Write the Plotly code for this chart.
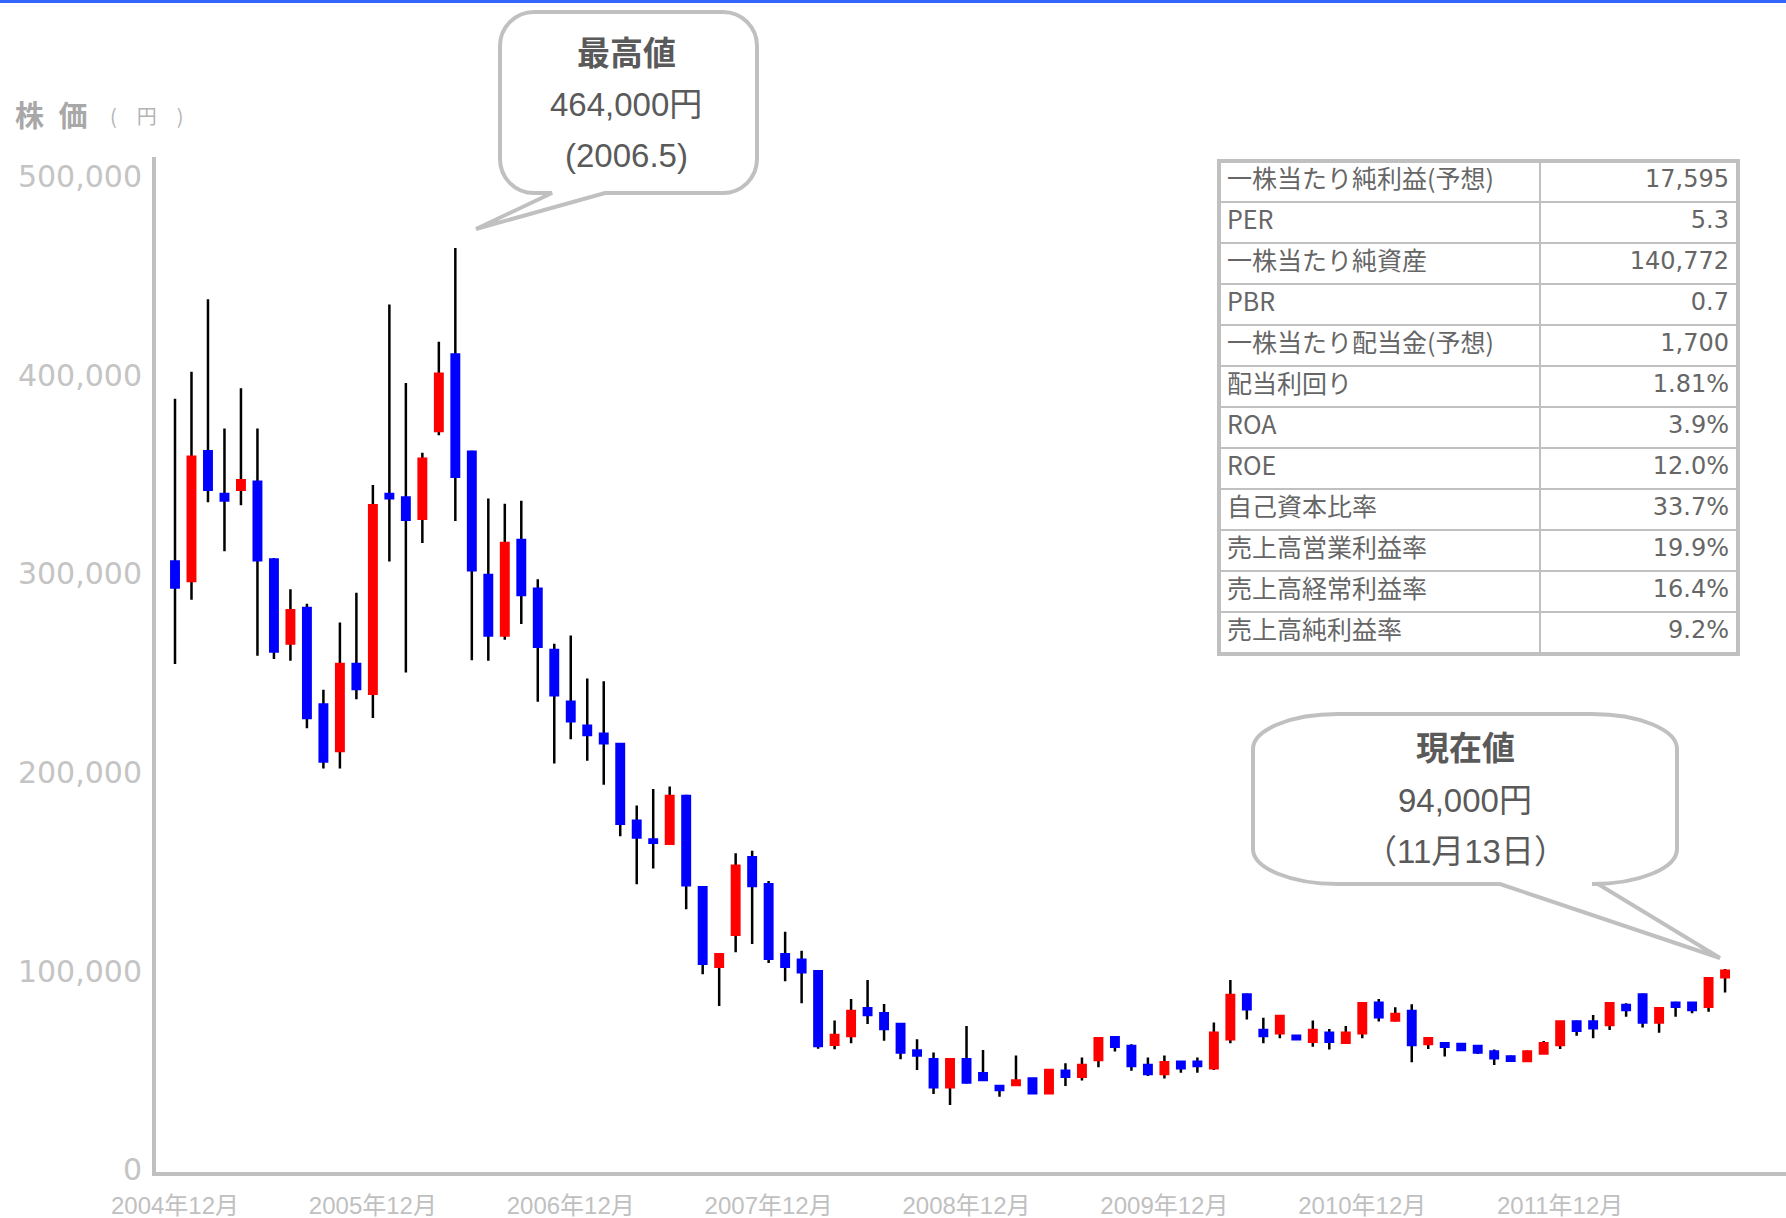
import plotly.graph_objects as go

# ---------------- data ----------------
start_year, start_month, n_months = 2004, 12, 95
months = []
yy, mm = start_year, start_month
for _ in range(n_months):
    months.append(f"{yy}年{mm}月")
    mm += 1
    if mm > 12:
        mm, yy = 1, yy + 1

open_ = [306200, 296400, 361700, 340200, 342300, 346400, 307200, 265000, 282800, 234200,
         210800, 254600, 239600, 340200, 338500, 327700, 371900, 410500, 361500, 299400,
         269000, 317000, 292500, 261700, 235600, 223500, 219500, 214300, 175700, 166300,
         164200, 188200, 142300, 102200, 118300, 157300, 143700, 108500, 105800, 99900,
         63000, 67400, 81300, 78800, 73400, 60000, 55600, 41500, 55600, 48600,
         42200, 42700, 46000, 38500, 49900, 46900, 55300, 66700, 62300, 52800,
         48200, 54400, 54400, 51100, 65700, 88300, 70400, 68700, 67500, 64500,
         69000, 64000, 68700, 84100, 75100, 79900, 63300, 63700, 63300, 62300,
         59500, 57000, 54800, 58600, 62800, 74600, 74600, 72900, 83000, 88300,
         74100, 84100, 84100, 82100, 96900]
high = [388200, 401700, 438300, 373200, 393400, 373200, 308000, 292200, 284900, 241700,
        275500, 290500, 344800, 435600, 396100, 361000, 416800, 464000, 362000, 338000,
        335300, 336800, 297300, 264800, 269000, 247300, 246000, 214700, 183400, 191700,
        193000, 188800, 142300, 108500, 159400, 160600, 145400, 119900, 110300, 99900,
        75100, 86000, 95500, 83500, 73400, 65700, 59000, 55600, 72400, 60300,
        42200, 57500, 46000, 50200, 53600, 56500, 66200, 67400, 63200, 56500,
        57500, 54400, 56500, 74100, 95500, 88800, 76600, 77900, 67500, 75100,
        70900, 72400, 83800, 86000, 81800, 83300, 66200, 63700, 63300, 62800,
        60600, 57500, 60000, 64800, 74900, 75100, 77900, 84300, 83800, 88800,
        81800, 84600, 84100, 96900, 101100]
low = [254600, 287000, 336000, 311400, 334500, 258800, 257100, 256300, 222300, 202000,
       202000, 236900, 227500, 306200, 250400, 315600, 369800, 326600, 256500, 256300,
       266900, 274800, 235600, 204500, 216800, 205900, 193800, 167900, 143700, 151700,
       163800, 131200, 98500, 82400, 109500, 113700, 104100, 94900, 83800, 61000,
       60700, 63700, 73400, 65000, 55600, 50200, 38200, 32600, 43500, 44900,
       36800, 42700, 38200, 38200, 42200, 44900, 51600, 59500, 49900, 47200,
       46000, 48900, 48900, 50200, 63700, 75700, 63700, 66200, 65300, 62000,
       60600, 63700, 66200, 74600, 74600, 54100, 60800, 57000, 60000, 58300,
       52800, 54300, 54300, 58300, 60800, 67500, 66200, 70400, 77100, 71700,
       69000, 77100, 78800, 79600, 89200]
close = [293200, 359000, 342300, 337000, 347100, 306800, 260900, 281700, 227500, 205600,
         254600, 242100, 334500, 338100, 327200, 357900, 400700, 348900, 301800, 269000,
         315500, 289400, 263300, 238900, 225800, 218900, 214700, 174200, 167300, 164600,
         188200, 143300, 103700, 108500, 153100, 142900, 106200, 102200, 99500, 62300,
         67800, 80000, 77900, 70900, 59000, 57600, 41500, 55600, 43900, 45200,
         40200, 44900, 38500, 50200, 46900, 52800, 66200, 62000, 52300, 48200,
         54100, 51100, 52300, 69000, 88000, 80800, 67400, 77400, 65700, 70400,
         64500, 69000, 83800, 76800, 78400, 62800, 66200, 62000, 60300, 59000,
         56100, 54900, 59500, 63700, 74600, 70000, 71200, 83800, 80400, 74100,
         81300, 82100, 80400, 96400, 100200]

tick_months = ["2004年12月", "2005年12月", "2006年12月", "2007年12月",
               "2008年12月", "2009年12月", "2010年12月", "2011年12月"]
y_ticks = [0, 100000, 200000, 300000, 400000, 500000]

table_labels = ["一株当たり純利益(予想)", "PER", "一株当たり純資産", "PBR",
                "一株当たり配当金(予想)", "配当利回り", "ROA", "ROE", "自己資本比率",
                "売上高営業利益率", "売上高経常利益率", "売上高純利益率"]
table_values = ["17,595", "5.3", "140,772", "0.7", "1,700", "1.81%", "3.9%", "12.0%",
                "33.7%", "19.9%", "16.4%", "9.2%"]

peak_lines = ["<b>最高値</b>", "464,000円", "(2006.5)"]
now_lines = ["<b>現在値</b>", "94,000円", "（11月13日）"]

# ---------------- layout geometry (pixels) ----------------
W, H = 1786, 1218
PLOT_L, PLOT_T, PLOT_R, PLOT_B = 156, 157, 1786, 1172
PW, PH = PLOT_R - PLOT_L, PLOT_B - PLOT_T
FIRST_PX, SPACING = 175.0, 16.49
ZERO_PX, TOP_TICK_PX = 1169.8, 176.6
upp = 500000 / (ZERO_PX - TOP_TICK_PX)
x_lo = -(FIRST_PX - PLOT_L) / SPACING
x_hi = x_lo + PW / SPACING
y_lo = -(PLOT_B - ZERO_PX) * upp
y_hi = (ZERO_PX - PLOT_T) * upp


def fx(px):
    return (px - PLOT_L) / PW


def fy(py):
    return (PLOT_B - py) / PH


GRAY_AX = "#c0c0c0"
TXT = "#5a5a5a"
CJK = "Noto Sans CJK JP"

fig = go.Figure()

# wicks (black): body collapsed to the midpoint so colored bodies cover it
mid = [(o + c) / 2 for o, c in zip(open_, close)]
fig.add_trace(go.Candlestick(
    x=months, open=mid, high=high, low=low, close=mid,
    increasing=dict(line=dict(color="black", width=2.5), fillcolor="black"),
    decreasing=dict(line=dict(color="black", width=2.5), fillcolor="black"),
    whiskerwidth=0, hoverinfo="skip", showlegend=False))

# bodies
body_hi = [max(o, c) for o, c in zip(open_, close)]
body_lo = [min(o, c) for o, c in zip(open_, close)]
fig.add_trace(go.Candlestick(
    x=months, open=open_, high=body_hi, low=body_lo, close=close,
    increasing=dict(line=dict(color="#ff0000", width=2.5), fillcolor="#ff0000"),
    decreasing=dict(line=dict(color="#0000ff", width=2.5), fillcolor="#0000ff"),
    whiskerwidth=0, hoverinfo="skip", showlegend=False))

# indicator table
tbl_font = dict(family=[CJK, "DejaVu Sans"], size=[25, 24], color="#666666")
fig.add_trace(go.Table(
    domain=dict(x=[fx(1219), fx(1738)], y=[fy(656), fy(161)]),
    columnwidth=[322, 197],
    header=dict(values=[table_labels[0], table_values[0]],
                align=["left", "right"], height=41,
                fill=dict(color="white"), line=dict(color=GRAY_AX, width=2),
                font=tbl_font),
    cells=dict(values=[table_labels[1:], table_values[1:]],
               align=["left", "right"], height=41,
               fill=dict(color="white"), line=dict(color=GRAY_AX, width=2),
               font=tbl_font),
))

shapes = []
# outer border of the table
shapes.append(dict(type="rect", xref="paper", yref="paper",
                   x0=fx(1219), x1=fx(1738), y0=fy(654), y1=fy(161),
                   line=dict(color=GRAY_AX, width=4), fillcolor="rgba(0,0,0,0)"))
# blue strip at the very top
shapes.append(dict(type="rect", xref="paper", yref="paper",
                   x0=fx(0), x1=fx(W), y0=fy(3), y1=fy(0),
                   line=dict(width=0), fillcolor="#3366ff"))


def bubble(x0, y0, x1, y1, rx, ry, ta, tb, tip):
    k = 0.5523

    def P(x, y):
        return f"{fx(x):.5f},{fy(y):.5f}"
    d = (f"M {P(x0 + rx, y0)} L {P(x1 - rx, y0)} "
         f"C {P(x1 - rx + k * rx, y0)} {P(x1, y0 + ry - k * ry)} {P(x1, y0 + ry)} "
         f"L {P(x1, y1 - ry)} "
         f"C {P(x1, y1 - ry + k * ry)} {P(x1 - rx + k * rx, y1)} {P(x1 - rx, y1)} "
         f"L {P(tb, y1)} L {P(tip[0], tip[1])} L {P(ta, y1)} L {P(x0 + rx, y1)} "
         f"C {P(x0 + rx - k * rx, y1)} {P(x0, y1 - ry + k * ry)} {P(x0, y1 - ry)} "
         f"L {P(x0, y0 + ry)} "
         f"C {P(x0, y0 + ry - k * ry)} {P(x0 + rx - k * rx, y0)} {P(x0 + rx, y0)} Z")
    return dict(type="path", xref="paper", yref="paper", path=d,
                line=dict(color=GRAY_AX, width=4), fillcolor="white", layer="above")


shapes.append(bubble(500, 12, 757, 193, 34, 34, 552, 605, (476, 229)))
shapes.append(bubble(1253, 714, 1677, 884, 85, 35, 1500, 1598, (1720, 958)))

annotations = []
for txt, ypx in zip(peak_lines, [54, 104.5, 155.5]):
    annotations.append(dict(xref="paper", yref="paper", x=fx(626), y=fy(ypx),
                            text=txt, showarrow=False, xanchor="center", yanchor="middle",
                            font=dict(family="Liberation Sans, " + CJK, size=33, color=TXT)))
for txt, ypx in zip(now_lines, [748, 800, 851]):
    annotations.append(dict(xref="paper", yref="paper", x=fx(1465), y=fy(ypx),
                            text=txt, showarrow=False, xanchor="center", yanchor="middle",
                            font=dict(family="Liberation Sans, " + CJK, size=33, color=TXT)))
# y-axis title
annotations.append(dict(xref="paper", yref="paper", x=fx(13), y=fy(114),
                        text="<b>株\u2002価</b>", showarrow=False, xanchor="left",
                        yanchor="middle", font=dict(family=CJK, size=29, color="#a8a8a8")))
annotations.append(dict(xref="paper", yref="paper", x=fx(108), y=fy(116),
                        text="(\u2003円\u2003)", showarrow=False, xanchor="left",
                        yanchor="middle", font=dict(family=CJK, size=20, color="#b4b4b4")))

fig.update_layout(
    width=W, height=H,
    margin=dict(l=PLOT_L, r=W - PLOT_R, t=PLOT_T, b=H - PLOT_B, pad=0),
    paper_bgcolor="white", plot_bgcolor="white",
    showlegend=False, boxgap=0.55, boxgroupgap=0,
    shapes=shapes, annotations=annotations,
    xaxis=dict(type="category", range=[x_lo, x_hi], rangeslider=dict(visible=False),
               automargin=False,
               showgrid=False, zeroline=False, showline=True, linecolor=GRAY_AX,
               linewidth=4, ticks="", tickmode="array", tickvals=tick_months,
               ticklabelstandoff=9,
               tickfont=dict(family="Liberation Sans, " + CJK, size=24, color=GRAY_AX)),
    yaxis=dict(range=[y_lo, y_hi], automargin=False,
               showgrid=False, zeroline=False, showline=True,
               linecolor=GRAY_AX, linewidth=4, ticks="", tickmode="array",
               tickvals=y_ticks, tickformat=",d", ticklabelstandoff=4,
               tickfont=dict(family="DejaVu Sans", size=30, color="#c4c4c4")),
)

fig.write_html("out.html",
               config={"displayModeBar": False},
               post_script="document.body.style.margin='0';"
                           "document.body.style.overflow='hidden';")
